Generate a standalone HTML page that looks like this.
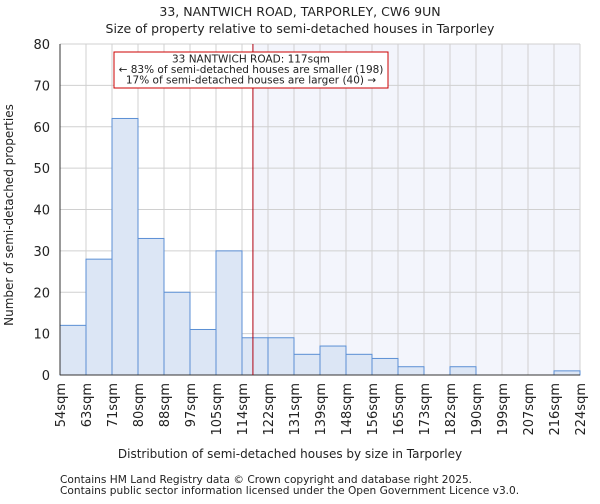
<!DOCTYPE html>
<html><head><meta charset="utf-8"><style>
body{margin:0;background:#fff;font-family:"DejaVu Sans","Liberation Sans",sans-serif}
svg text{font-family:"DejaVu Sans","Liberation Sans",sans-serif;fill:#222}
</style></head><body>
<svg id="c" width="600" height="500" xmlns="http://www.w3.org/2000/svg">
<text x="300" y="16" text-anchor="middle" font-size="12.5">33, NANTWICH ROAD, TARPORLEY, CW6 9UN</text>
<text x="300" y="33" text-anchor="middle" font-size="12.5">Size of property relative to semi-detached houses in Tarporley</text>
<g id="plot"></g>
<text x="290" y="458" text-anchor="middle" font-size="12">Distribution of semi-detached houses by size in Tarporley</text>
<text transform="translate(13,215) rotate(-90)" text-anchor="middle" font-size="12">Number of semi-detached properties</text>
<text x="60" y="483" font-size="10.6" fill="#444">Contains HM Land Registry data © Crown copyright and database right 2025.</text>
<text x="60" y="494" font-size="10.6" fill="#444">Contains public sector information licensed under the Open Government Licence v3.0.</text>
</svg>
<script>
const categories=["54sqm","63sqm","71sqm","80sqm","88sqm","97sqm","105sqm","114sqm","122sqm","131sqm","139sqm","148sqm","156sqm","165sqm","173sqm","182sqm","190sqm","199sqm","207sqm","216sqm","224sqm"];
const counts=[12,28,62,33,20,11,30,9,9,5,7,5,4,2,0,2,0,0,0,1];
const yTicks=[0,10,20,30,40,50,60,70,80];
const markerBin=7.42;
const NS="http://www.w3.org/2000/svg";
const L=60,R=580,T=44,B=375,yMax=80;
const n=counts.length,bw=(R-L)/n;
const xs=i=>L+i*bw, ys=v=>B-(v/yMax)*(B-T);
const g=document.getElementById('plot');
function mk(t,a){const e=document.createElementNS(NS,t);for(const k in a)e.setAttribute(k,a[k]);g.appendChild(e);return e;}
const mx=xs(markerBin);
const sh=mk('rect',{x:mx,y:T,width:R-mx,height:B-T,fill:'#f3f5fc'});


for(let i=0;i<=n;i++){mk('line',{x1:xs(i),x2:xs(i),y1:T,y2:B,stroke:'#d0d0d0','stroke-width':1});}
yTicks.forEach(v=>{mk('line',{x1:L,x2:R,y1:ys(v),y2:ys(v),stroke:'#d0d0d0','stroke-width':1});
const t=mk('text',{x:L-10,y:ys(v)+5,'text-anchor':'end','font-size':13});t.textContent=v;

});
counts.forEach((c,i)=>{if(c<=0)return;const r=mk('rect',{x:xs(i),y:ys(c),width:bw,height:B-ys(c),fill:'#dce6f5',stroke:'#5b8fd4','stroke-width':1});

});
categories.forEach((c,i)=>{const t=mk('text',{transform:`translate(${xs(i)+5},${B+8}) rotate(-90)`,'text-anchor':'end','font-size':13});t.textContent=c;

});
mk('line',{x1:L,x2:L,y1:T,y2:B,stroke:'#333'});
mk('line',{x1:L,x2:R,y1:B,y2:B,stroke:'#333'});
const ml=mk('line',{x1:mx,x2:mx,y1:T,y2:B,stroke:'#b00010','stroke-width':1});


const bx=mk('rect',{x:114,y:52,width:274,height:36,fill:'#fff',stroke:'#c00','stroke-width':1});


["33 NANTWICH ROAD: 117sqm","← 83% of semi-detached houses are smaller (198)","17% of semi-detached houses are larger (40) →"].forEach((s,k)=>{const t=mk('text',{x:251,y:62.5+k*10.5,'text-anchor':'middle','font-size':10.5});t.textContent=s;

});
</script>
</body></html>
